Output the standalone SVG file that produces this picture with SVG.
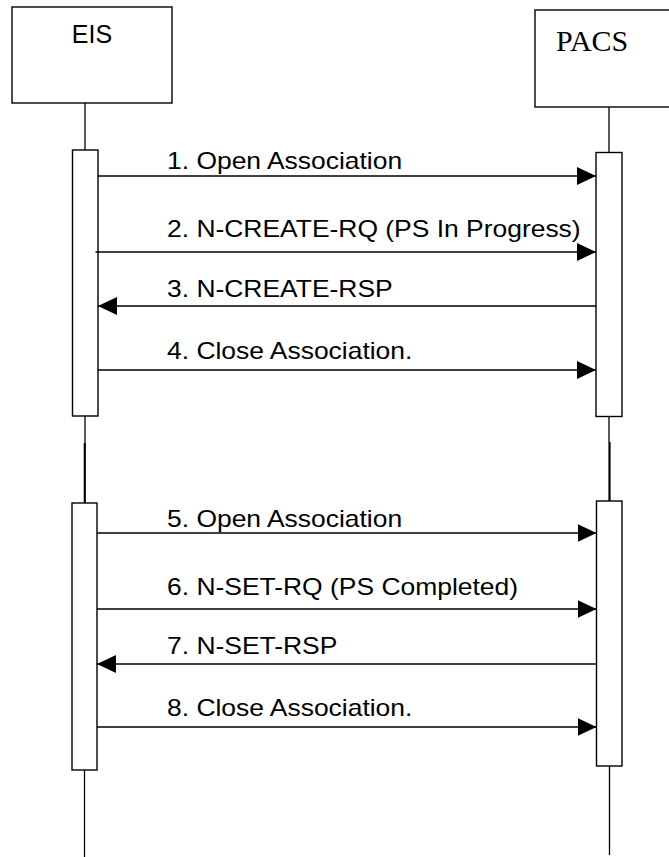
<svg xmlns="http://www.w3.org/2000/svg" width="669" height="857" viewBox="0 0 669 857">
<style>
.box{fill:#fff;stroke:#000;stroke-width:1.4}
.ln{stroke:#000;stroke-width:1.3;fill:none}
.thk{stroke:#000;stroke-width:2.2;fill:none}
.lbl{font-family:"Liberation Sans",Arial,sans-serif;font-size:23px;fill:#000}
</style>
<defs>
<marker id="ah" markerUnits="userSpaceOnUse" markerWidth="19" markerHeight="18" refX="19" refY="9" orient="auto">
<path d="M0,0 L19,9 L0,18 z" fill="#000"/>
</marker>
</defs>
<rect width="669" height="857" fill="#fff"/>
<g id="lifelines">
<line class="ln" x1="85" y1="103" x2="85" y2="150"/>
<line class="ln" x1="85" y1="416" x2="85" y2="443"/>
<line class="thk" x1="84.8" y1="443" x2="84.8" y2="503"/>
<line class="ln" x1="84.5" y1="770" x2="84.5" y2="857"/>
<line class="ln" x1="609" y1="107" x2="609" y2="152"/>
<line class="ln" x1="609" y1="416" x2="609" y2="442"/>
<line class="thk" x1="609.5" y1="442" x2="609.5" y2="501"/>
<line class="ln" x1="609.5" y1="766" x2="609.5" y2="855"/>
</g>
<g id="EIS">
<rect class="box" x="12" y="7" width="160" height="96"/>
<text x="92" y="43" text-anchor="middle" font-family="Liberation Sans, Arial, sans-serif" font-size="25">EIS</text>
</g>
<g id="PACS">
<rect class="box" x="535" y="10" width="140" height="97"/>
<text x="556" y="51" font-family="Liberation Serif, Times New Roman, serif" font-size="30">PACS</text>
</g>
<g id="EIS-act1"><rect class="box" x="72.5" y="150" width="25.5" height="266"/></g>
<g id="PACS-act1"><rect class="box" x="596" y="152.5" width="26" height="264"/></g>
<g id="EIS-act2"><rect class="box" x="72" y="503" width="25" height="267"/></g>
<g id="PACS-act2"><rect class="box" x="596.5" y="501" width="25.5" height="265"/></g>
<g id="connectors">
<line class="ln" x1="98" y1="176" x2="596" y2="176" marker-end="url(#ah)"/>
<line class="ln" x1="95.5" y1="252" x2="596" y2="252" marker-end="url(#ah)"/>
<line class="ln" x1="596" y1="306" x2="98" y2="306" marker-end="url(#ah)"/>
<line class="ln" x1="98" y1="370" x2="596" y2="370" marker-end="url(#ah)"/>
<line class="ln" x1="97" y1="533" x2="596.5" y2="533" marker-end="url(#ah)"/>
<line class="ln" x1="97" y1="609" x2="596.5" y2="609" marker-end="url(#ah)"/>
<line class="ln" x1="596.5" y1="664" x2="97" y2="664" marker-end="url(#ah)"/>
<line class="ln" x1="97" y1="727" x2="596.5" y2="727" marker-end="url(#ah)"/>
<text class="lbl" transform="translate(167,168.5) scale(1.15,1)">1. Open Association</text>
<text class="lbl" transform="translate(167,237) scale(1.15,1)">2. N-CREATE-RQ (PS In Progress)</text>
<text class="lbl" transform="translate(167,297) scale(1.15,1)">3. N-CREATE-RSP</text>
<text class="lbl" transform="translate(167,358.5) scale(1.15,1)">4. Close Association.</text>
<text class="lbl" transform="translate(167,527) scale(1.15,1)">5. Open Association</text>
<text class="lbl" transform="translate(167,595) scale(1.15,1)">6. N-SET-RQ (PS Completed)</text>
<text class="lbl" transform="translate(167,654) scale(1.15,1)">7. N-SET-RSP</text>
<text class="lbl" transform="translate(167,716) scale(1.15,1)">8. Close Association.</text>
</g>
</svg>
